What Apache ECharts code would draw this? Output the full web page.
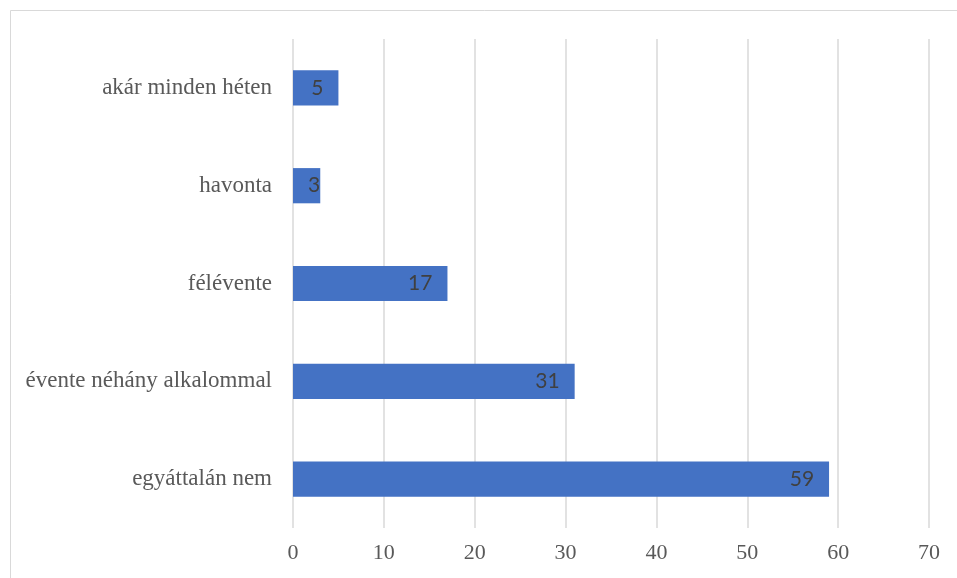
<!DOCTYPE html>
<html>
<head>
<meta charset="utf-8">
<script src="https://cdn.jsdelivr.net/npm/echarts@6/dist/echarts.min.js"></script>
<style>
html,body{margin:0;padding:0;background:#fff;}
#chart{width:957px;height:578px;}
</style>
</head>
<body>
<div id="chart"></div>
<script>
const categories = ["egyáttalán nem", "évente néhány alkalommal", "félévente", "havonta", "akár minden héten"];
const values = [59, 31, 17, 3, 5];
const xTicks = [0, 10, 20, 30, 40, 50, 60, 70];

const chart = echarts.init(document.getElementById('chart'));
chart.setOption({
  animation: false,
  backgroundColor: '#fff',
  graphic: [{
    type: 'rect',
    shape: { x: 10.5, y: 10.5, width: 1000, height: 1000 },
    style: { fill: 'none', stroke: '#d9d9d9', lineWidth: 1 },
    silent: true
  }],
  grid: { left: 293, right: 28, top: 39, bottom: 50, containLabel: false },
  xAxis: {
    type: 'value',
    min: xTicks[0],
    max: xTicks[xTicks.length - 1],
    interval: 10,
    axisLine: { show: false },
    axisTick: { show: false },
    splitLine: { show: true, lineStyle: { color: '#d9d9d9', width: 1.5 } },
    axisLabel: { margin: 14, color: '#595959', fontFamily: 'Liberation Serif', fontSize: 22 }
  },
  yAxis: {
    type: 'category',
    data: categories,
    axisLine: { show: false },
    axisTick: { show: false },
    axisLabel: { margin: 21, color: '#595959', fontFamily: 'Liberation Serif', fontSize: 23 }
  },
  series: [{
    type: 'bar',
    data: values.map(v => ({
      value: v,
      label: { distance: v < 4 ? 0 : 15 }
    })),
    barWidth: '36%',
    itemStyle: { color: '#4472C4' },
    label: {
      show: true,
      position: 'insideRight',
      color: '#404040',
      fontFamily: 'Lato',
      fontSize: 21
    }
  }]
});
</script>
</body>
</html>
